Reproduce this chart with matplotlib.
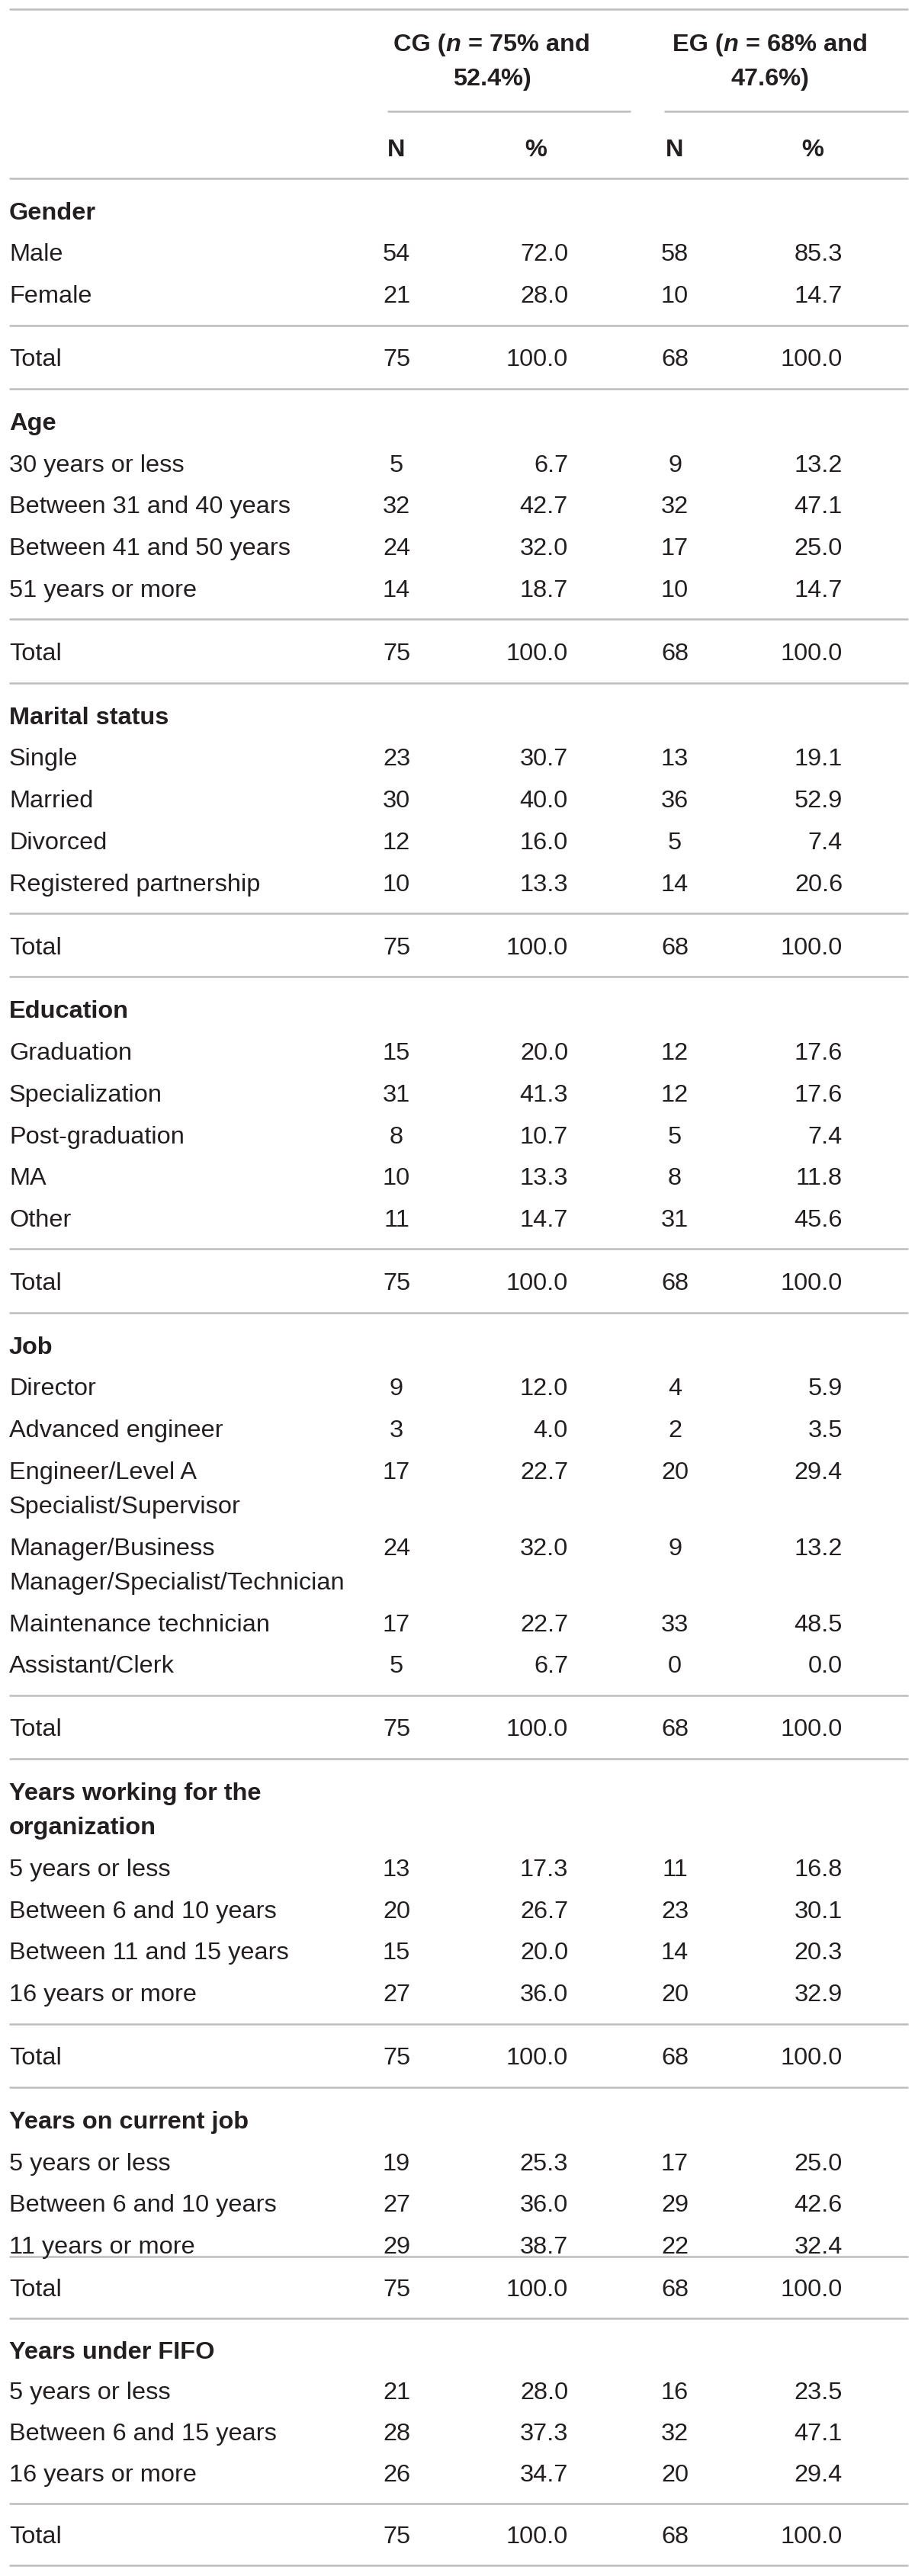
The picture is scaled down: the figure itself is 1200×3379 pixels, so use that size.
import matplotlib.pyplot as plt

# table contents
sections = ["Gender", "Age", "Marital status", "Education", "Job",
            "Years working for the\norganization", "Years on current job",
            "Years under FIFO"]

row_labels = [
    ["Male", "Female"],
    ["30 years or less", "Between 31 and 40 years", "Between 41 and 50 years",
     "51 years or more"],
    ["Single", "Married", "Divorced", "Registered partnership"],
    ["Graduation", "Specialization", "Post-graduation", "MA", "Other"],
    ["Director", "Advanced engineer", "Engineer/Level A\nSpecialist/Supervisor",
     "Manager/Business\nManager/Specialist/Technician",
     "Maintenance technician", "Assistant/Clerk"],
    ["5 years or less", "Between 6 and 10 years", "Between 11 and 15 years",
     "16 years or more"],
    ["5 years or less", "Between 6 and 10 years", "11 years or more"],
    ["5 years or less", "Between 6 and 15 years", "16 years or more"],
]

cg_n = [[54, 21], [5, 32, 24, 14], [23, 30, 12, 10], [15, 31, 8, 10, 11],
        [9, 3, 17, 24, 17, 5], [13, 20, 15, 27], [19, 27, 29], [21, 28, 26]]
cg_pct = [[72.0, 28.0], [6.7, 42.7, 32.0, 18.7], [30.7, 40.0, 16.0, 13.3],
          [20.0, 41.3, 10.7, 13.3, 14.7], [12.0, 4.0, 22.7, 32.0, 22.7, 6.7],
          [17.3, 26.7, 20.0, 36.0], [25.3, 36.0, 38.7], [28.0, 37.3, 34.7]]
eg_n = [[58, 10], [9, 32, 17, 10], [13, 36, 5, 14], [12, 12, 5, 8, 31],
        [4, 2, 20, 9, 33, 0], [11, 23, 14, 20], [17, 29, 22], [16, 32, 20]]
eg_pct = [[85.3, 14.7], [13.2, 47.1, 25.0, 14.7], [19.1, 52.9, 7.4, 20.6],
          [17.6, 17.6, 7.4, 11.8, 45.6], [5.9, 3.5, 29.4, 13.2, 48.5, 0.0],
          [16.8, 30.1, 20.3, 32.9], [25.0, 42.6, 32.4], [23.5, 47.1, 29.4]]

cg_total, eg_total = 75, 68
total_pct = 100.0

plt.rcParams['font.family'] = ['Liberation Sans', 'DejaVu Sans']

W, H = 1200, 3379
fig = plt.figure(figsize=(W / 100, H / 100), dpi=100)
ax = fig.add_axes([0, 0, 1, 1])
ax.set_xlim(0, W)
ax.set_ylim(H, 0)
ax.axis('off')

FS = 23.4
TXT = '#231f20'
RULE = '#bdbdbd'
LW = 1.8
CAP = 11.7   # half cap height, to go from visual centre to baseline

x_label, x_cg_n, x_cg_p, x_eg_n, x_eg_p = 12, 520, 745, 885, 1105
WRAP = 45

# spacing: (rule->header, row step, last row->rule, rule->total, total->rule)
normal = (42, 54.8, 41, 42, 41.5)
spacing = {6: (42, 54.8, 15.6, 40, 41), 7: (41, 53.7, 41, 40, 41)}


def put(x, y, s, ha='left', weight='normal', style='normal'):
    return ax.text(x, y + CAP, s, ha=ha, va='baseline', fontsize=FS,
                   color=TXT, fontweight=weight, fontstyle=style)


def rule(y, x0=12, x1=1191):
    ax.plot([x0, x1], [y, y], color=RULE, lw=LW, solid_capstyle='butt')


renderer = fig.canvas.get_renderer()


def width(s, **kw):
    t = ax.text(0, 0, s, fontsize=FS, **kw)
    w = t.get_window_extent(renderer).width
    t.remove()
    return w


def rich(xc, y, parts):
    # parts: (text, style, spaces before)
    sp = width('a a', fontweight='bold') - width('aa', fontweight='bold')
    ws = [width(s, fontweight='bold', fontstyle=st) for s, st, _ in parts]
    total = sum(ws) + sp * sum(g for _, _, g in parts)
    x = xc - total / 2
    for (s, st, g), w in zip(parts, ws):
        x += g * sp
        put(x, y, s, weight='bold', style=st)
        x += w


# column headers
rule(12)
rich(645, 55, [("CG (", 'normal', 0), ("n", 'italic', 0),
               ("= 75% and", 'normal', 1)])
put(645, 100, "52.4%)", ha='center', weight='bold')
rich(1010, 55, [("EG (", 'normal', 0), ("n", 'italic', 0),
                ("= 68% and", 'normal', 1)])
put(1010, 100, "47.6%)", ha='center', weight='bold')
rule(146, 508, 827)
rule(146, 871, 1191)
for x, s in [(x_cg_n, "N"), (703, "%"), (x_eg_n, "N"), (1066, "%")]:
    put(x, 193, s, ha='center', weight='bold')
rule(234)

y = 234
for i, sec in enumerate(sections):
    g_head, row, g_last, g_tot, g_rule = spacing.get(i, normal)
    y += g_head
    lines = sec.split('\n')
    for k, ln in enumerate(lines):
        put(x_label, y + k * WRAP, ln, weight='bold')
    y += WRAP * (len(lines) - 1)
    for lab, a, b, c, d in zip(row_labels[i], cg_n[i], cg_pct[i],
                               eg_n[i], eg_pct[i]):
        y += row
        put(x_cg_n, y, str(a), ha='center')
        put(x_cg_p, y, f"{b:.1f}", ha='right')
        put(x_eg_n, y, str(c), ha='center')
        put(x_eg_p, y, f"{d:.1f}", ha='right')
        parts = lab.split('\n')
        for k, ln in enumerate(parts):
            put(x_label, y + k * WRAP, ln)
        y += WRAP * (len(parts) - 1)
    y += g_last
    rule(y)
    y += g_tot
    put(x_label, y, "Total")
    put(x_cg_n, y, str(cg_total), ha='center')
    put(x_cg_p, y, f"{total_pct:.1f}", ha='right')
    put(x_eg_n, y, str(eg_total), ha='center')
    put(x_eg_p, y, f"{total_pct:.1f}", ha='right')
    y += g_rule
    rule(y)

fig.savefig("out.png", dpi=100, facecolor='white')
